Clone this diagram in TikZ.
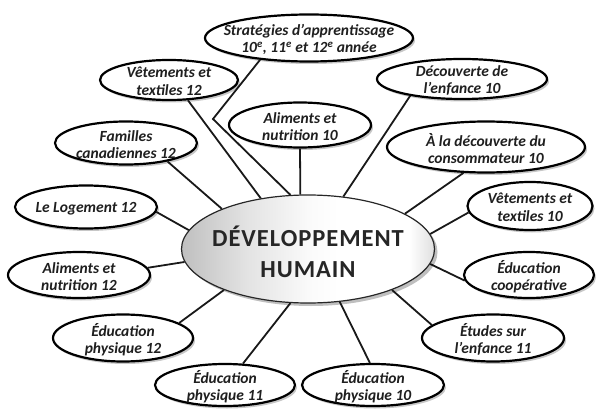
\documentclass[tikz,border=0pt]{standalone}
\usepackage{fontspec}
\setmainfont{Carlito}
\usetikzlibrary{shapes.geometric,shadows}
\pgfdeclarehorizontalshading{cshade}{100bp}{color(0bp)=(gray!50); color(25bp)=(gray!50); color(38bp)=(gray!22); color(50bp)=(gray!4); color(56bp)=(white); color(70bp)=(white); color(75bp)=(gray!25); color(100bp)=(gray!25)}
\tikzset{
  otext/.style={font=\fontsize{15.5}{17.5}\selectfont\bfseries\itshape, text=black!88, align=center, yshift=-1.5pt},
  ctext/.style={font=\fontsize{24.5}{31}\selectfont\bfseries\addfontfeatures{LetterSpace=4}, text=black!85, align=center},
  outer/.style={ellipse, draw=black, line width=2.2pt, fill=white, inner sep=0pt,
    drop shadow={shadow xshift=2pt, shadow yshift=-2.5pt, opacity=0.22, fill=black},
    label={[otext]center:{#1}}},
  conn/.style={line width=1.8pt, black!90},
}
\begin{document}
\begin{tikzpicture}[x=1pt,y=-1pt]
\useasboundingbox (0,0) rectangle (597,409);
% centre
\node[ellipse, draw=black!85, line width=1.2pt, shade, shading=cshade, inner sep=0pt,
  minimum width=253pt, minimum height=108pt,
  drop shadow={shadow xshift=3pt, shadow yshift=-3pt, opacity=0.25, fill=black},
  label={[ctext, yshift=-3pt]center:{DÉVELOPPEMENT\\HUMAIN}}] (c) at (308,249) {};
% outer nodes
\node[outer={Stratégies d’apprentissage\\10\textsuperscript{e}, 11\textsuperscript{e} et 12\textsuperscript{e} année}, minimum width=208pt, minimum height=47pt] (st) at (309,38) {};
\node[outer={Vêtements et\\textiles 12}, minimum width=138pt, minimum height=40pt] (vt12) at (169,80) {};
\node[outer={Aliments et\\nutrition 10}, minimum width=142pt, minimum height=45pt] (al10) at (300,125) {};
\node[outer={Familles\\canadiennes 12}, minimum width=142pt, minimum height=43pt] (fam) at (126,143) {};
\node[outer={Le Logement 12}, minimum width=142pt, minimum height=43pt] (log) at (86,207) {};
\node[outer={Aliments et\\nutrition 12}, minimum width=142pt, minimum height=46pt] (al12) at (79,275) {};
\node[outer={Éducation\\physique 12}, minimum width=140pt, minimum height=47pt] (ep12) at (123,338) {};
\node[outer={Éducation\\physique 11}, minimum width=140pt, minimum height=42pt] (ep11) at (225,385) {};
\node[outer={Éducation\\physique 10}, minimum width=142pt, minimum height=42pt] (ep10) at (373,385) {};
\node[outer={Études sur\\l’enfance 11}, minimum width=142pt, minimum height=47pt] (etu) at (493,338) {};
\node[outer={Éducation\\coopérative}, minimum width=130pt, minimum height=46pt] (coop) at (529,275) {};
\node[outer={Vêtements et\\textiles 10}, minimum width=125pt, minimum height=48pt] (vt10) at (530,206) {};
\node[outer={À la découverte du\\consommateur 10}, minimum width=198pt, minimum height=51pt] (cons) at (486,147) {};
\node[outer={Découverte de\\l’enfance 10}, minimum width=170pt, minimum height=40pt] (dec) at (462,79) {};
\coordinate (bend) at (213,119);
% connectors
\draw[conn] (fam.-24) -- (c.155);
\draw[conn] (vt12.-47) -- (c.133);
\draw[conn] (st.204) -- (bend) -- (c.108);
\draw[conn] (al10.south) -- (c.98);
\draw[conn] (dec.198) -- (c.56);
\draw[conn] (cons.229) -- (c.20);
\draw[conn] (vt10.186) -- (c.7);
\draw[conn] (coop.185) -- (c.-7);
\draw[conn] (etu.168) -- (c.-26);
\draw[conn] (ep10.98) -- (c.-59);
\draw[conn] (ep11.50) -- (c.252);
\draw[conn] (ep12.15) -- (c.206);
\draw[conn] (al12.6) -- (c.186);
\draw[conn] (log.-4) -- (c.171);
\end{tikzpicture}
\end{document}
